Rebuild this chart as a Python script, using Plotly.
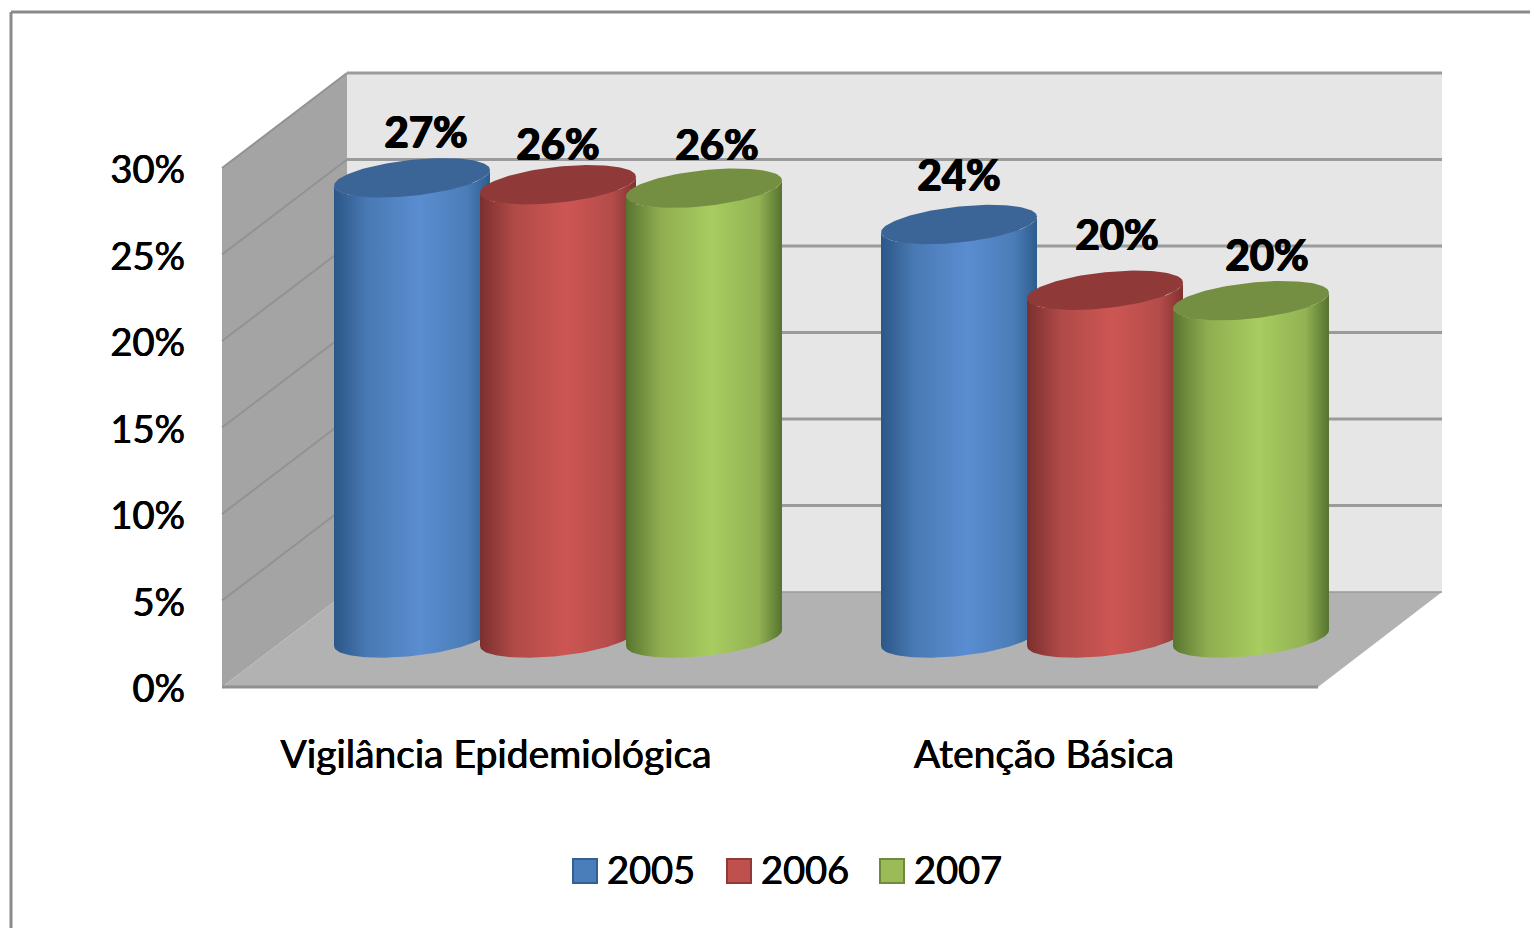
import numpy as np
import plotly.graph_objects as go

# ---------- data ----------
categories = ["Vigilância Epidemiológica", "Atenção Básica"]
years = ["2005", "2006", "2007"]
values_2005 = [26.6, 23.9]
values_2006 = [26.2, 20.1]
values_2007 = [26.0, 19.5]
y_ticks = [0, 5, 10, 15, 20, 25, 30]
y_tick_labels = ["0%", "5%", "10%", "15%", "20%", "25%", "30%"]

# ---------- layout constants (pixels of the 1530x928 page) ----------
W, H = 1530, 928
Y0_PX = 687          # pixel of the front-plane 0 %
PX_PER_UNIT = 17.3
DEPTH_X, DEPTH_Y = 125, 95
FRONT_X = 222
BACK_RIGHT = 1442
FLOOR_FRONT_RIGHT = 1318
BAR_BASE_PX = 638
RX, RY, TILT = 78, 18, 8
group_left = [412, 959]
bar_step = [146, 146]
label_dx = [[14, 0, 13], [0, 12, 16]]
label_dy = [[45, 40, 43], [49, 55, 45]]
legend_x = [585, 739, 892]
legend_text_dx = 22
LEGEND_Y_PX = 871
LEGEND_TEXT_Y_PX = 874
FONT = "Lato, Carlito, Calibri, 'Liberation Sans', sans-serif"
SOFT = "0.4px 0 0 #000, -0.4px 0 0 #000"
HEAVY = "0.8px 0 0 #000, -0.8px 0 0 #000, 0 0.5px 0 #000"

grads = [
    ["#2b5788", "#4a7ab4", "#5a8dd1", "#4b7db8", "#2d5c8e"],
    ["#7b2f2e", "#b04a48", "#cd5653", "#b44c4a", "#80322f"],
    ["#587530", "#8fad50", "#a8cc60", "#92b253", "#567330"],
]
top_colors = ["#3b6597", "#8f3a38", "#758f42"]
swatch_fill = ["#4a7ebb", "#c0504d", "#9bbb59"]
swatch_line = ["#33608f", "#8f3a38", "#6f8a3c"]
series = [values_2005, values_2006, values_2007]


def val(py):
    """Value on the y axis for a page pixel row."""
    return (Y0_PX - py) / PX_PER_UNIT


BASE = val(BAR_BASE_PX)
t = np.linspace(0, 2 * np.pi, 121)

fig = go.Figure()

# plain bars carry the values; the cylinder skins are drawn on top of them
for s, (name, vals) in enumerate(zip(years, series)):
    xs = [group_left[g] + s * bar_step[g] for g in range(2)]
    fig.add_trace(go.Bar(x=xs, y=vals, base=BASE, width=120, name=name,
                         marker=dict(color=swatch_fill[s], line=dict(width=0)),
                         showlegend=False))

# cylinders, in drawing order
for g in range(2):
    for s in range(3):
        cx = group_left[g] + s * bar_step[g]
        v = series[s][g]
        ang = np.linspace(np.pi, 2 * np.pi, 61)
        bx = cx + RX * np.cos(ang)
        by = BASE + (TILT * np.cos(ang) + RY * np.sin(ang)) / PX_PER_UNIT
        top = BASE + v
        tx = cx + RX * np.cos(ang[::-1])
        ty = top + (TILT * np.cos(ang[::-1]) + RY * np.sin(ang[::-1])) / PX_PER_UNIT
        fig.add_trace(go.Scatter(
            x=np.r_[bx, tx, bx[0]], y=np.r_[by, ty, by[0]],
            mode="lines", line=dict(width=0), fill="toself",
            fillgradient=dict(type="horizontal",
                              colorscale=[[0, grads[s][0]], [0.22, grads[s][1]],
                                          [0.55, grads[s][2]], [0.85, grads[s][3]],
                                          [1, grads[s][4]]]),
            hoverinfo="skip", showlegend=False))
        ex = cx + RX * np.cos(t)
        ey = top + (TILT * np.cos(t) + RY * np.sin(t)) / PX_PER_UNIT
        fig.add_trace(go.Scatter(
            x=ex, y=ey, mode="lines", line=dict(width=0), fill="toself",
            fillcolor=top_colors[s], hoverinfo="skip", showlegend=False))

# data labels
lx, ly, lt = [], [], []
for g in range(2):
    for s in range(3):
        lx.append(group_left[g] + s * bar_step[g] + label_dx[g][s])
        ly.append(BASE + series[s][g] + (label_dy[g][s] - 4) / PX_PER_UNIT)
        lt.append(f"{series[s][g]:.0f}%")
fig.add_trace(go.Scatter(x=lx, y=ly, text=lt, mode="text", textposition="middle center",
                         textfont=dict(family=FONT, size=42, color="#000000", weight="bold",
                                       shadow=HEAVY),
                         hoverinfo="skip", showlegend=False))

# legend row
for s, name in enumerate(years):
    fig.add_trace(go.Scatter(
        x=[legend_x[s]], y=[val(LEGEND_Y_PX)], mode="markers", name=name,
        marker=dict(symbol="square", size=24, color=swatch_fill[s],
                    line=dict(color=swatch_line[s], width=2)),
        hoverinfo="skip", showlegend=False))
    fig.add_trace(go.Scatter(
        x=[legend_x[s] + legend_text_dx], y=[val(LEGEND_TEXT_Y_PX)], text=[name], mode="text",
        textposition="middle right",
        textfont=dict(family=FONT, size=38, color="#000000", shadow=SOFT),
        hoverinfo="skip", showlegend=False))

# 3D box
shapes = []


def poly(pts, fill):
    path = "M" + "L".join(f"{x},{val(y)}" for x, y in pts) + "Z"
    shapes.append(dict(type="path", path=path, fillcolor=fill, line=dict(width=0),
                       layer="below", xref="x", yref="y"))


def seg(x0, y0, x1, y1, color, width):
    shapes.append(dict(type="line", x0=x0, x1=x1, y0=val(y0), y1=val(y1), xref="x", yref="y",
                       line=dict(color=color, width=width), layer="below"))


bx0 = FRONT_X + DEPTH_X
by0 = Y0_PX - DEPTH_Y
wall_top = PX_PER_UNIT * y_ticks[-1]
poly([(bx0, by0 - wall_top), (BACK_RIGHT, by0 - wall_top), (BACK_RIGHT, by0), (bx0, by0)], "#e6e6e6")
poly([(FRONT_X, Y0_PX - wall_top), (bx0, by0 - wall_top), (bx0, by0), (FRONT_X, Y0_PX)], "#a4a4a4")
poly([(FRONT_X, Y0_PX), (bx0, by0), (BACK_RIGHT, by0), (FLOOR_FRONT_RIGHT, Y0_PX)], "#b2b2b2")
for v in y_ticks[1:]:
    d = PX_PER_UNIT * v
    seg(FRONT_X, Y0_PX - d, bx0, by0 - d, "#929292", 2)
    seg(bx0, by0 - d, BACK_RIGHT, by0 - d, "#9b9b9b", 3)
seg(FRONT_X, Y0_PX, FLOOR_FRONT_RIGHT, Y0_PX, "#909090", 3)
seg(bx0, by0, BACK_RIGHT, by0, "#9a9a9a", 1.5)
# picture frame
seg(11, 12, W, 12, "#8a8a8a", 3)
seg(11, 12, 11, H, "#8a8a8a", 3)

fig.update_layout(
    width=W, height=H, autosize=False,
    margin=dict(l=0, r=0, t=0, b=0),
    paper_bgcolor="#ffffff", plot_bgcolor="#ffffff",
    showlegend=False, barmode="overlay", shapes=shapes,
    xaxis=dict(range=[0, W], domain=[0, 1], anchor="free", position=(H - 728) / H,
               tickmode="array", tickvals=[496, 1044], ticktext=categories,
               showgrid=False, zeroline=False, showline=False, ticks="",
               tickfont=dict(family=FONT, size=39, color="#000000", shadow=SOFT), fixedrange=True),
    yaxis=dict(range=[val(H), val(0)], domain=[0, 1], anchor="free", position=185 / W,
               tickmode="array", tickvals=y_ticks, ticktext=y_tick_labels,
               showgrid=False, zeroline=False, showline=False, ticks="", ticklabelshift=2,
               tickfont=dict(family=FONT, size=38, color="#000000", shadow=SOFT), fixedrange=True),
)

fig.write_html("out.html", config={"displayModeBar": False},
               post_script="document.body.style.margin='0';document.body.style.overflow='hidden';")
